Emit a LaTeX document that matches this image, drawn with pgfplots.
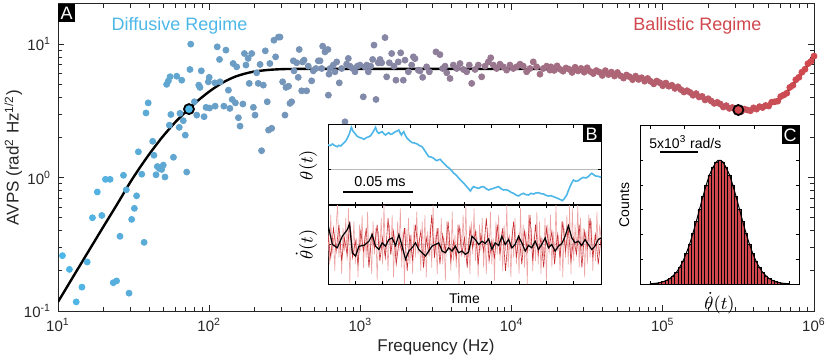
\documentclass[border=0pt]{standalone}
\usepackage{pgfplots}
\pgfplotsset{compat=1.18}
\usepackage{fontspec}
\setmainfont{Liberation Sans}
\definecolor{diffblue}{RGB}{77,183,232}
\definecolor{ballred}{RGB}{208,72,78}
\definecolor{pinkred}{RGB}{238,165,165}
\definecolor{darkred}{RGB}{200,45,50}
\definecolor{spine}{RGB}{38,38,38}

\pgfplotstableread{
f v
10.7 0.26
11.9 0.205
13.2 0.117
14.4 0.151
15.6 0.233
16.9 0.50
18.2 0.78
19.5 0.52
20.6 0.97
22.1 0.97
23.2 0.163
24.4 0.168
25.7 0.363
27.1 1.04
28.3 0.81
29.5 0.136
30.7 0.486
32.0 0.588
33.1 0.73
34.0 1.56
35.8 1.06
37.1 0.327
38.2 3.05
39.5 3.63
42.3 1.87
43.1 1.47
44.5 1.05
45.4 1.21
46.8 1.17
48.5 1.15
49.7 1.24
51.0 1.01
52.3 5.0
53.7 5.3
54.5 2.47
55.1 5.7
55.8 2.97
58.0 1.42
61.0 5.75
63.4 2.38
64.1 3.03
65.8 5.37
67.4 2.67
69.5 2.08
71.0 1.10
74.6 6.46
75.5 10.0
79.8 3.70
82.7 2.94
85.3 4.93
86.9 4.74
88.7 6.31
92.5 2.86
95.3 3.36
98.7 5.22
100 5.64
100.5 3.32
109 5.13
109.5 3.43
113 9.55
117 7.68
118 5.22
125 3.43
129 9.02
134 4.52
137 3.30
142 3.85
144 7.16
149 3.63
152 6.76
156 2.81
160 2.43
167 3.56
171 8.51
175 6.97
181 7.82
184 5.08
191 8.51
196 3.36
201 2.94
206 6.10
211 5.08
217 7.05
222 1.59
228 4.93
235 8.91
242 3.70
247 2.27
252 7.16
259 2.34
268 10.7
275 8.03
287 11.3
294 11.3
306 5.22
317 2.94
322 4.74
335 4.84
342 3.60
351 3.70
360 7.50
364 6.31
379 7.25
388 5.64
394 9.12
409 4.47
415 7.36
424 7.59
441 4.47
452 6.84
476 5.31
488 6.31
508 6.57
527 7.50
541 7.50
555 6.57
563 9.66
583 8.75
610 9.12
614 4.15
620 5.96
630 6.57
662 6.97
679 6.21
697 7.36
725 5.13
752 6.57
791 2.62
811 7.08
832 7.82
853 6.84
889 6.57
921 6.21
955 6.84
994 6.97
1045 4.03
1072 6.76
1101 6.97
1128 6.21
1169 6.84
1205 7.68
1230 9.84
1268 3.85
1313 7.25
1349 7.68
1383 7.25
1455 11.2
1492 5.69
1553 7.25
1610 8.51
1667 6.84
1718 5.37
1781 7.36
1846 8.61
1922 5.37
1972 7.59
2075 6.21
2183 6.97
2240 8.03
2296 7.80
2415 6.39
2478 6.31
2581 5.64
2743 6.76
2857 6.21
3162 8.75
3359 8.35
3500 6.57
3630 6.84
3724 6.10
3917 5.53
4115 6.97
4335 6.57
4560 7.16
4798 6.46
5047 6.21
5250 6.97
5445 5.08
5728 6.46
6026 6.97
6340 5.69
6670 6.84
7016 7.36
7278 7.90
7570 6.97
7963 6.57
8375 7.08
8810 6.76
9268 6.39
9750 6.97
10250 6.57
10800 6.76
11370 7.08
11950 6.84
12570 6.21
13230 6.57
13910 7.36
14640 6.76
15400 5.96
16200 6.57
17040 6.84
17940 6.39
18200 6.76
19100 6.36
20000 6.87
20900 6.48
21900 6.27
22900 6.63
24000 6.48
25100 6.14
26300 6.71
27500 6.30
28800 6.58
30200 6.17
31600 6.65
33100 6.24
34700 6.02
36300 6.34
38000 6.18
39800 5.83
41700 6.33
43700 5.92
45700 6.17
47900 5.77
50100 6.13
52500 5.79
55000 5.57
57500 5.87
60300 5.70
63100 5.42
66100 5.76
69200 5.44
72400 5.60
75900 5.28
79400 5.53
83200 5.26
87100 5.04
91200 5.29
95500 5.14
100000 4.88
104700 5.11
109600 4.84
114800 4.92
120200 4.66
125900 4.79
131800 4.56
138000 4.38
144500 4.48
151400 4.35
158500 4.14
166000 4.26
173800 4.02
182000 4.06
190500 3.82
199500 3.90
208900 3.75
218800 3.60
229100 3.66
239900 3.56
251200 3.38
263000 3.46
275400 3.30
288400 3.35
302000 3.21
316200 3.24
331100 3.14
346700 3.26
363100 3.21
380200 3.17
398100 3.33
416900 3.26
436500 3.40
457100 3.35
478600 3.47
501200 3.44
524800 3.67
549500 3.70
575400 3.74
602600 4.05
631000 4.16
660700 4.29
691800 4.74
724400 4.91
758600 5.41
794300 5.64
831800 6.16
871000 6.48
912000 7.14
955000 7.43
1000000 8.13
}\avps

\pgfplotstableread{
f v
10 0.117
12 0.165
15 0.251
20 0.43
25 0.65
30 0.92
35 1.20
40 1.49
45 1.78
50 2.07
60 2.62
73.5 3.28
85 3.81
100 4.41
115 4.92
130 5.33
150 5.73
175 6.04
200 6.24
250 6.42
320 6.51
450 6.52
1000 6.52
5000 6.52
15000 6.51
20900 6.48
27000 6.37
35000 6.20
45000 5.95
58000 5.69
75000 5.40
96000 5.08
120000 4.75
144000 4.40
175000 4.05
205000 3.78
235000 3.55
265000 3.38
290000 3.27
316000 3.21
350000 3.20
400000 3.26
450000 3.36
500000 3.50
560000 3.74
630000 4.15
700000 4.72
780000 5.50
850000 6.30
920000 7.05
1000000 8.05
}\fit

\begin{document}
\begin{tikzpicture}
\useasboundingbox (0pt,0pt) rectangle (415pt,179.5pt);

\begin{axis}[at={(29pt,24pt)}, anchor=south west, scale only axis,
  width=378pt, height=153.5pt,
  xmode=log, ymode=log, xmin=10, xmax=1e6, ymin=0.1, ymax=20,
  axis line style={spine, line width=0.5pt},
  tick style={spine, line width=0.4pt},
  major tick length=3.2pt, minor tick length=1.8pt,
  tick label style={font=\fontsize{7.5}{8}\selectfont, text=spine},
  label style={font=\fontsize{8.5}{9}\selectfont, text=spine},
  xticklabel={\pgfmathtruncatemacro\ee{round(\tick/ln(10))}10\textsuperscript{\ee}},
  yticklabel={\pgfmathtruncatemacro\ee{round(\tick/ln(10))}10\textsuperscript{\ee}},
  xlabel={Frequency (Hz)}, xlabel shift=-3pt,
  ylabel={AVPS (rad\textsuperscript{2} Hz\textsuperscript{1/2})}, ylabel shift=-6pt,
  colormap={regime}{rgb255=(77,183,232) rgb255=(208,72,78)},
]
\addplot[scatter, only marks, mark=*, mark size=1.5pt, point meta=x,
  scatter/use mapped color={draw=mapped color, fill=mapped color}] table {\avps};
\addplot[black, line width=1.2pt, smooth] table {\fit};
\addplot[only marks, mark=*, mark size=2.5pt, mark options={fill=diffblue, draw=black, line width=0.9pt}] coordinates {(73.5,3.26)};
\addplot[only marks, mark=*, mark size=2.5pt, mark options={fill=ballred, draw=black, line width=0.9pt}] coordinates {(316000,3.21)};
\node[fill=black, text=white, inner sep=0pt, minimum width=8.3pt, minimum height=9pt, anchor=north west,
  font=\fontsize{9}{9}\selectfont] at (rel axis cs:0,1) {A};
\end{axis}

\node[text=diffblue, font=\fontsize{9}{10}\selectfont] at (89.75pt,166.75pt) {Diffusive Regime};
\node[text=ballred, font=\fontsize{9}{10}\selectfont] at (348.75pt,166.75pt) {Ballistic Regime};

% inset B, top panel
\begin{axis}[at={(164pt,77pt)}, anchor=south west, scale only axis,
  width=136.5pt, height=40pt, xmin=0, xmax=200, ymin=-1.08, ymax=1.32,
  axis background/.style={fill=white},
  axis line style={black, line width=0.5pt},
  xtick={0,20,...,200}, xticklabels={}, ytick={0}, yticklabels={},
  ymajorgrids, grid style={gray!55, line width=0.4pt},
  major tick length=1.5pt, tick style={black, line width=0.4pt},
  ylabel={$\theta(t)$}, ylabel style={font=\fontsize{9}{9}\selectfont, yshift=-5pt},
]
\addplot[diffblue, line width=0.8pt] coordinates {
(0,0.72)(1.6,0.70)(3.2,0.75)(5,0.70)(6.8,0.67)(8,0.71)(9.3,0.69)(10.5,0.74)(11.7,0.79)(13,0.84)(14.1,0.92)(15.6,1.05)(17.1,1.25)(18.4,1.13)(19.7,1.07)(21.2,0.99)(22.7,0.95)(24.5,0.93)(26.3,0.89)(28.1,0.94)(30.0,0.97)(31.2,1.00)(32.4,1.07)(33.6,1.15)(34.8,1.25)(36.0,1.12)(37.3,1.07)(38.5,1.10)(39.7,1.12)(40.9,1.06)(42.1,1.02)(43.4,1.06)(44.6,1.09)(45.8,1.04)(47.0,1.05)(48.2,1.09)(49.5,1.12)(50.7,1.14)(51.9,1.17)(52.9,1.08)(53.8,1.02)(54.6,1.08)(55.5,1.12)(56.8,1.00)(58.0,0.92)(59.8,0.85)(61.6,0.79)(63.4,0.78)(65.3,0.75)(67.1,0.70)(68.9,0.67)(70.1,0.60)(71.4,0.52)(72.6,0.44)(73.8,0.37)(75.6,0.36)(77.5,0.32)(78.7,0.27)(79.9,0.25)(81.1,0.28)(82.3,0.29)(83.6,0.22)(84.8,0.17)(86.0,0.12)(87.2,0.07)(88.4,0.04)(89.6,-0.01)(90.9,-0.06)(92.1,-0.13)(93.3,-0.16)(94.5,-0.21)(95.7,-0.27)(97.0,-0.33)(98.8,-0.40)(100.6,-0.48)(102.5,-0.57)(104.3,-0.66)(105.5,-0.58)(106.7,-0.53)(108.5,-0.56)(110.4,-0.58)(112.2,-0.54)(114.0,-0.53)(115.8,-0.59)(117.7,-0.63)(119.5,-0.60)(121.3,-0.58)(123.2,-0.55)(125.0,-0.53)(126.8,-0.59)(128.6,-0.63)(130.5,-0.62)(132.3,-0.65)(134.1,-0.70)(135.9,-0.73)(137.7,-0.78)(139.6,-0.81)(141.4,-0.76)(143.2,-0.73)(145.0,-0.77)(146.9,-0.78)(148.7,-0.73)(150.5,-0.75)(152.3,-0.72)(154.2,-0.71)(156.0,-0.74)(157.9,-0.75)(159.7,-0.79)(161.5,-0.81)(163.3,-0.80)(165.2,-0.83)(167.0,-0.86)(168.8,-0.89)(170.3,-0.92)(171.7,-0.95)(173.3,-0.88)(174.9,-0.78)(176.1,-0.65)(177.3,-0.53)(178.5,-0.42)(179.8,-0.33)(181.6,-0.37)(183.4,-0.35)(185.2,-0.29)(187.1,-0.25)(188.9,-0.27)(190.7,-0.23)(192.0,-0.17)(193.2,-0.13)(194.6,-0.17)(196.1,-0.21)(198,-0.22)(200,-0.25)};
\node[fill=black, text=white, inner sep=0pt, minimum width=9pt, minimum height=8.5pt, anchor=north east,
  font=\fontsize{9}{9}\selectfont] at (rel axis cs:1,1) {B};
\end{axis}

% inset B, bottom panel
\begin{axis}[at={(164pt,37.5pt)}, anchor=south west, scale only axis,
  width=136.5pt, height=39.5pt, xmin=0, xmax=200, ymin=-1.2, ymax=1.2,
  axis background/.style={fill=white},
  axis line style={black, line width=0.5pt},
  xtick={0,20,...,200}, xticklabels={}, ytick={0}, yticklabels={},
  ymajorgrids, grid style={gray!55, line width=0.4pt},
  major tick length=1.5pt, tick style={black, line width=0.4pt},
  xlabel={Time}, xlabel style={font=\fontsize{7}{8}\selectfont, yshift=5.5pt},
  ylabel={$\dot{\theta}(t)$}, ylabel style={font=\fontsize{9}{9}\selectfont, yshift=-5pt},
]
\addplot[pinkred, line width=0.3pt] coordinates {
(0,0.4)(1,-0.6)(2,0.9)(3,-0.3)(4,0.2)(5,-0.8)(6,0.6)(7,1.2)(8,-0.4)(9,0.3)
(10,-0.9)(11,0.5)(12,-0.2)(13,0.8)(14,-0.5)(15,1.1)(16,-1.2)(17,0.4)(18,-0.3)(19,0.7)
(20,-0.6)(21,0.2)(22,-1.0)(23,0.6)(24,-0.2)(25,0.9)(26,-0.7)(27,0.3)(28,-0.4)(29,1.0)
(30,-0.5)(31,0.1)(32,-0.9)(33,0.7)(34,-0.3)(35,0.5)(36,-1.1)(37,0.4)(38,-0.2)(39,0.8)
(40,-0.6)(41,1.2)(42,-0.4)(43,0.2)(44,-0.8)(45,0.6)(46,-0.3)(47,0.9)(48,-1.0)(49,0.3)
(50,-0.5)(51,0.7)(52,-0.2)(53,1.1)(54,-0.7)(55,0.4)(56,-1.2)(57,0.5)(58,-0.1)(59,0.8)
(60,-0.6)(61,0.3)(62,-0.9)(63,0.6)(64,-0.4)(65,1.0)(66,-0.3)(67,0.2)(68,-0.8)(69,0.7)
(70,-0.5)(71,0.9)(72,-1.0)(73,0.4)(74,-0.2)(75,0.6)(76,-0.7)(77,1.2)(78,-0.4)(79,0.3)
(80,-0.9)(81,0.5)(82,-0.3)(83,0.8)(84,-0.6)(85,0.2)(86,-1.1)(87,0.7)(88,-0.2)(89,0.4)
(90,-0.8)(91,1.0)(92,-0.5)(93,0.3)(94,-0.7)(95,0.6)(96,-1.2)(97,0.5)(98,-0.1)(99,0.9)
(100,-0.4)(101,1.2)(102,-0.6)(103,0.2)(104,-0.9)(105,0.7)(106,-0.3)(107,1.1)(108,-0.5)(109,0.4)
(110,-1.0)(111,0.6)(112,-0.2)(113,0.8)(114,-0.7)(115,0.3)(116,-0.9)(117,0.5)(118,-0.4)(119,1.0)
(120,-0.6)(121,0.2)(122,-1.1)(123,0.7)(124,-0.3)(125,0.9)(126,-0.5)(127,0.4)(128,-0.8)(129,0.6)
(130,-0.2)(131,1.2)(132,-0.7)(133,0.3)(134,-1.0)(135,0.5)(136,-0.4)(137,0.8)(138,-0.6)(139,0.2)
(140,-0.9)(141,1.1)(142,-0.3)(143,0.6)(144,-0.7)(145,0.4)(146,-1.2)(147,0.9)(148,-0.2)(149,0.5)
(150,-0.8)(151,0.3)(152,-0.5)(153,1.0)(154,-0.6)(155,0.7)(156,-0.9)(157,0.2)(158,-0.4)(159,0.8)
(160,-1.1)(161,0.6)(162,-0.3)(163,0.9)(164,-0.7)(165,0.4)(166,-0.5)(167,1.2)(168,-0.2)(169,0.3)
(170,-0.8)(171,0.7)(172,-1.0)(173,0.5)(174,-0.4)(175,0.9)(176,-0.6)(177,1.2)(178,-0.9)(179,1.1)
(180,-0.5)(181,0.6)(182,-0.2)(183,1.2)(184,-0.7)(185,0.8)(186,-0.3)(187,0.5)(188,-1.0)(189,0.4)
(190,-0.6)(191,0.9)(192,-0.4)(193,0.7)(194,-0.8)(195,0.3)(196,-0.5)(197,1.0)(198,-0.3)(199,0.6)(200,0.2)};
\addplot[darkred, line width=0.3pt] coordinates {
(0,0.3)(2,-0.4)(4,0.5)(6,-0.2)(8,0.6)(10,-0.5)(12,0.2)(14,-0.3)(16,0.7)(18,-0.4)
(20,0.1)(22,-0.6)(24,0.4)(26,-0.2)(28,0.5)(30,-0.7)(32,0.3)(34,-0.1)(36,0.6)(38,-0.5)
(40,0.2)(42,-0.4)(44,0.8)(46,-0.3)(48,0.4)(50,-0.6)(52,0.1)(54,-0.2)(56,0.5)(58,-0.8)
(60,0.3)(62,-0.5)(64,0.6)(66,-0.1)(68,0.4)(70,-0.7)(72,0.2)(74,-0.3)(76,0.9)(78,-0.4)
(80,0.5)(82,-0.6)(84,0.3)(86,-0.2)(88,0.7)(90,-0.5)(92,0.1)(94,-0.4)(96,0.6)(98,-0.3)
(100,0.2)(102,-0.7)(104,0.5)(106,-0.1)(108,0.4)(110,-0.6)(112,0.3)(114,-0.2)(116,0.8)(118,-0.5)
(120,0.1)(122,-0.4)(124,0.6)(126,-0.3)(128,0.5)(130,-0.8)(132,0.2)(134,-0.1)(136,0.7)(138,-0.4)
(140,0.3)(142,-0.6)(144,0.4)(146,-0.2)(148,0.9)(150,-0.5)(152,0.6)(154,-0.3)(156,0.2)(158,-0.7)
(160,0.5)(162,-0.1)(164,0.4)(166,-0.6)(168,0.3)(170,-0.4)(172,0.7)(174,-0.2)(176,0.5)(178,-0.5)
(180,0.2)(182,-0.3)(184,0.6)(186,-0.7)(188,0.4)(190,-0.1)(192,0.8)(194,-0.4)(196,0.3)(198,-0.6)(200,0.2)};
\addplot[black, line width=0.6pt] coordinates {
(0,0.60)(3.2,0)(6.8,-0.10)(10.5,0.25)(14.1,0.45)(15.8,0.63)(17.8,-0.25)(20.2,-0.35)(22.7,-0.05)(26.3,-0.03)
(30.0,0.10)(32.4,0.30)(34.8,-0.05)(37.3,-0.15)(39.7,0.05)(42.1,-0.05)(44.6,0.15)(47.0,0.20)(49.5,-0.03)(51.9,0.30)
(54.3,-0.05)(56.8,-0.45)(59.2,-0.20)(61.6,-0.10)(64.1,0.05)(66.5,-0.15)(68.9,-0.25)(71.4,-0.35)(73.8,-0.20)(76.2,-0.05)
(78.7,0)(81.1,0.05)(83.6,-0.20)(86.0,-0.25)(88.4,-0.10)(90.9,-0.20)(93.3,-0.05)(95.7,-0.25)(98.2,-0.20)(100.6,-0.30)
(103.0,-0.23)(105.5,0.25)(107.9,0.15)(110.4,0)(112.8,0.10)(115.2,0.03)(117.7,0.17)(120.1,-0.15)(122.5,0.05)(125.0,-0.03)
(127.4,0.25)(129.8,0)(132.3,0.15)(134.7,-0.10)(137.1,0)(139.6,0.25)(142.0,0.05)(144.5,-0.20)(146.9,-0.03)(149.3,-0.10)
(151.8,0.10)(154.2,-0.15)(156.6,0)(159.1,0.20)(161.5,-0.10)(163.9,0)(166.4,-0.20)(168.8,-0.05)(171.3,0.03)(173.7,0.25)
(176.1,0.57)(178.6,0.20)(181.0,0.05)(183.4,0.10)(185.9,-0.03)(188.3,0.15)(190.7,0)(193.2,-0.15)(195.6,-0.05)(198.0,0.15)(200,0.20)};
\end{axis}

% inset C
\begin{axis}[at={(320pt,37.5pt)}, anchor=south west, scale only axis,
  width=79.5pt, height=79pt, xmin=-4, xmax=4, ymin=0, ymax=1.277,
  axis background/.style={fill=white},
  axis line style={black, line width=0.5pt},
  xtick={-3.5,-1.75,0,1.75,3.5}, xticklabels={}, ytick={0.2,0.4,...,1.0}, yticklabels={},
  major tick length=1.5pt, tick style={black, line width=0.4pt},
  xlabel={$\dot{\theta}(t)$}, xlabel style={font=\fontsize{9}{9}\selectfont, yshift=6pt},
  ylabel={Counts}, ylabel style={font=\fontsize{7}{8}\selectfont, yshift=-5pt},
]
\addplot[ybar, bar width=0.16667, bar shift=0pt, fill=ballred, draw=black, line width=0.3pt] coordinates {
(-3.1667,0.0066)(-3.0,0.0111)(-2.8333,0.0181)(-2.6667,0.0286)(-2.5,0.0439)(-2.3333,0.0657)(-2.1667,0.0956)(-2.0,0.1353)
(-1.8333,0.1863)(-1.6667,0.2494)(-1.5,0.3247)(-1.3333,0.4111)(-1.1667,0.5063)(-1.0,0.6065)(-0.8333,0.7066)(-0.6667,0.8007)
(-0.5,0.8825)(-0.3333,0.9460)(-0.1667,0.9862)(0,1.0)(0.1667,0.9862)(0.3333,0.9460)(0.5,0.8825)(0.6667,0.8007)
(0.8333,0.7066)(1.0,0.6065)(1.1667,0.5063)(1.3333,0.4111)(1.5,0.3247)(1.6667,0.2494)(1.8333,0.1863)(2.0,0.1353)
(2.1667,0.0956)(2.3333,0.0657)(2.5,0.0439)(2.6667,0.0286)(2.8333,0.0181)(3.0,0.0111)(3.1667,0.0066)};
\addplot[black, line width=0.5pt, smooth] coordinates {
(-3.5,0.0022)(-3.1667,0.0066)(-2.8333,0.0181)(-2.5,0.0439)(-2.1667,0.0956)(-1.8333,0.1863)(-1.5,0.3247)(-1.1667,0.5063)
(-0.8333,0.7066)(-0.5,0.8825)(-0.1667,0.9862)(0,1.0)(0.1667,0.9862)(0.5,0.8825)(0.8333,0.7066)(1.1667,0.5063)
(1.5,0.3247)(1.8333,0.1863)(2.1667,0.0956)(2.5,0.0439)(2.8333,0.0181)(3.1667,0.0066)(3.5,0.0022)};
\node[fill=black, text=white, inner sep=0pt, minimum width=8.5pt, minimum height=9pt, anchor=north east,
  font=\fontsize{9}{9}\selectfont] at (rel axis cs:1,1) {C};
\end{axis}

% scale bars
\draw[black, line width=1pt] (171.5pt,83.65pt) -- (206.5pt,83.65pt);
\node[font=\fontsize{7.2}{8}\selectfont] at (190pt,88.5pt) {0.05 ms};
\draw[black, line width=1pt] (330pt,103.35pt) -- (348.85pt,103.35pt);
\node[anchor=west, font=\fontsize{7}{8}\selectfont, inner sep=0pt] at (324.5pt,108.5pt) {5x10\textsuperscript{3} rad/s};
\end{tikzpicture}
\end{document}
